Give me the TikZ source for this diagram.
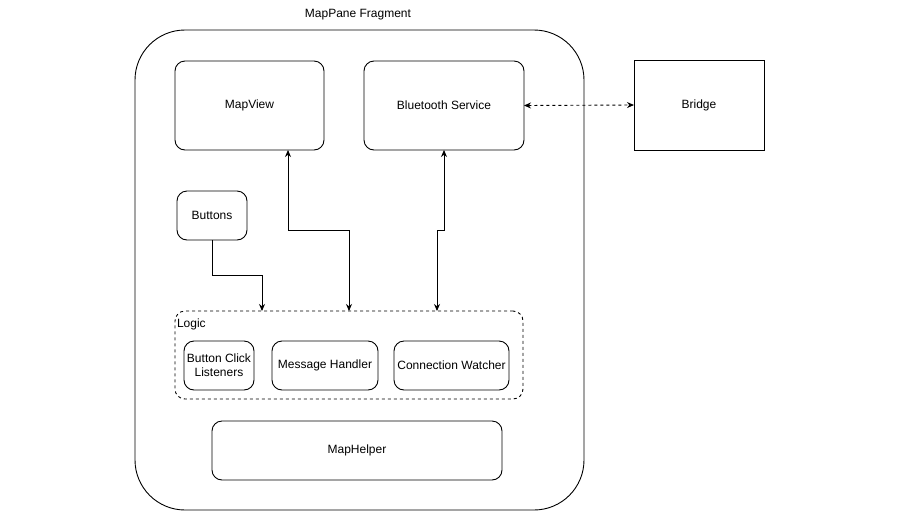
\documentclass[tikz,border=0pt]{standalone}
\usepackage{fontspec}
\setmainfont{Liberation Sans}
\usetikzlibrary{arrows.meta,positioning,calc}
\begin{document}
\begin{tikzpicture}[x=1pt,y=-1pt,
  font=\fontsize{12}{14}\selectfont,
  every node/.style={inner sep=0pt, outer sep=0pt},
  box/.style={draw, line width=0.9pt, rounded corners=10pt, fill=white, align=center},
  sharpbox/.style={draw, line width=0.9pt, fill=white, align=center},
  conn/.style={line width=0.9pt, {Stealth[length=7pt,width=6pt]}-{Stealth[length=7pt,width=6pt]}},
  oneway/.style={line width=0.9pt, -{Stealth[length=7pt,width=6pt]}}
]
\useasboundingbox (0,0) rectangle (900,520);
\fill[white] (0,0) rectangle (900,520);

% outer fragment
\node[draw, line width=0.9pt, rounded corners=50pt, minimum width=449pt, minimum height=480pt] (frag) at (359.5,270) {};
\node (title) at (358,14.5) {MapPane Fragment};

% top boxes
\node[box, minimum width=149pt, minimum height=89pt] (mv) at (249.5,105.5) {MapView};
\node[box, minimum width=160pt, minimum height=89pt] (bt) at (444,105.5) {Bluetooth Service};
\node[sharpbox, minimum width=130pt, minimum height=90pt] (bridge) at (699,105) {Bridge};

% buttons
\node[box, minimum width=70pt, minimum height=49pt] (btn) at (212,215.5) {Buttons};

% logic group
\node[draw, dashed, line width=0.9pt, rounded corners=10pt, minimum width=348pt, minimum height=88pt] (logic) at (349,355) {};
\node[anchor=north west] (logiclbl) at ([xshift=2pt,yshift=-8pt]logic.north west) {Logic};

\node[box, minimum width=70pt, minimum height=49pt] (bcl) at (219,365.5) {Button Click\\Listeners};
\node[box, minimum width=106pt, minimum height=49pt] (mh) at (325,365.5) {Message Handler};
\node[box, minimum width=115pt, minimum height=49pt] (cw) at (451.5,365.5) {Connection Watcher};

% map helper
\node[box, minimum width=290pt, minimum height=59pt] (mhelp) at (357,450.5) {MapHelper};

% connectors
\draw[conn, dashed] (bt.east) -- (bridge.west);
\draw[oneway] (btn.south) -- ++(0,35) -| ([xshift=-87pt]logic.north);
\draw[conn] ([xshift=38.5pt]mv.south) -- ++(0,80) -| (logic.north);
\draw[conn] (bt.south) -- ++(0,80) -| ([xshift=88pt]logic.north);
\end{tikzpicture}
\end{document}
